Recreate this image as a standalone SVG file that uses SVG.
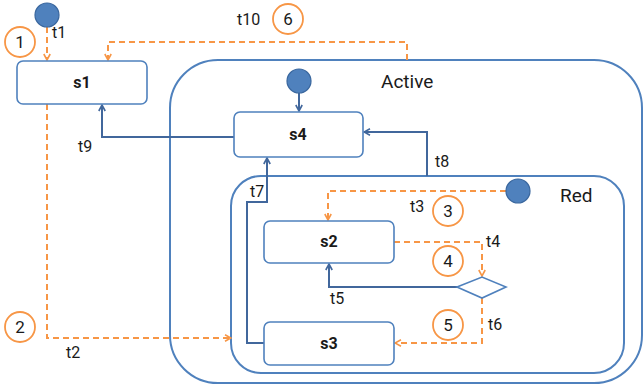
<svg xmlns="http://www.w3.org/2000/svg" width="643" height="385" viewBox="0 0 643 385">
  <defs>
    <style>
      .state { fill: #ffffff; stroke: #4f81bd; stroke-width: 1.6; }
      .region { fill: none; stroke: #4f81bd; stroke-width: 2; }
      .init { fill: #4f81bd; stroke: #3a679e; stroke-width: 1.2; }
      .solid { fill: none; stroke: #41679c; stroke-width: 2; marker-end: url(#arrowBlue); }
      .dash { fill: none; stroke: #f79646; stroke-width: 2; stroke-dasharray: 6 4; marker-end: url(#arrowOrange); }
      .step { fill: #ffffff; stroke: #f79646; stroke-width: 1.8; }
      .name { font-family: Roboto, "DejaVu Sans", sans-serif; font-size: 16px; font-weight: bold; fill: #1a1a1a; text-anchor: middle; }
      .title { font-family: Roboto, "DejaVu Sans", sans-serif; font-size: 19px; fill: #1a1a1a; }
      .lbl { font-family: Roboto, "DejaVu Sans", sans-serif; font-size: 16px; fill: #1a1a1a; }
      .num { font-family: Roboto, "DejaVu Sans", sans-serif; font-size: 17px; fill: #1a1a1a; text-anchor: middle; }
    </style>
    <marker id="arrowBlue" viewBox="0 0 8 8" refX="7" refY="4" markerWidth="8" markerHeight="8" markerUnits="userSpaceOnUse" orient="auto">
      <path d="M1,0.8 L7,4 L1,7.2" fill="none" stroke="#41679c" stroke-width="1.6"/>
    </marker>
    <marker id="arrowOrange" viewBox="0 0 8 8" refX="7" refY="4" markerWidth="8" markerHeight="8" markerUnits="userSpaceOnUse" orient="auto">
      <path d="M1,0.8 L7,4 L1,7.2" fill="none" stroke="#f79646" stroke-width="1.6"/>
    </marker>
  </defs>

  <!-- composite states -->
  <g id="Active">
    <rect class="region" x="170" y="60" width="472" height="323" rx="48"/>
    <text class="title" x="381" y="88">Active</text>
  </g>
  <g id="Red">
    <rect class="region" x="231" y="176" width="393" height="197" rx="30"/>
    <text class="title" x="560" y="202">Red</text>
  </g>

  <!-- transitions -->
  <g id="connectors">
    <path class="dash" d="M47,27 V60"/>
    <path class="dash" d="M47,104 V338 H231"/>
    <path class="dash" d="M506,191 H328 V220"/>
    <path class="dash" d="M394,242 H482 V276"/>
    <path class="dash" d="M482,298 V343 H395"/>
    <path class="dash" d="M407,60 V42 H108 V60"/>
    <path class="solid" d="M299,93 V111"/>
    <path class="solid" d="M234,137 H102 V105"/>
    <path class="solid" d="M264,343 H247 V202 H267 V158"/>
    <path class="solid" d="M427,176 V132 H364"/>
    <path class="solid" d="M457,287 H329 V264"/>
  </g>

  <!-- initial pseudostates -->
  <g id="init-top"><circle class="init" cx="47" cy="15" r="12"/></g>
  <g id="init-active"><circle class="init" cx="299" cy="81" r="12"/></g>
  <g id="init-red"><circle class="init" cx="518" cy="191" r="12"/></g>

  <!-- simple states -->
  <g id="s1">
    <rect class="state" x="17" y="61" width="130" height="43" rx="6"/>
    <text class="name" x="82" y="88">s1</text>
  </g>
  <g id="s4">
    <rect class="state" x="234" y="112" width="129" height="45" rx="6"/>
    <text class="name" x="298" y="140">s4</text>
  </g>
  <g id="s2">
    <rect class="state" x="264" y="221" width="130" height="42" rx="6"/>
    <text class="name" x="329" y="247">s2</text>
  </g>
  <g id="s3">
    <rect class="state" x="264" y="322" width="130" height="43" rx="6"/>
    <text class="name" x="329" y="349">s3</text>
  </g>
  <g id="choice">
    <path d="M457,287 L482,277 L506,287 L482,298 Z" fill="#ffffff" stroke="#4f81bd" stroke-width="1.6"/>
  </g>

  <!-- transition labels -->
  <g id="labels">
    <text class="lbl" x="52" y="38">t1</text>
    <text class="lbl" x="66" y="358">t2</text>
    <text class="lbl" x="410" y="212">t3</text>
    <text class="lbl" x="486" y="247">t4</text>
    <text class="lbl" x="330" y="304">t5</text>
    <text class="lbl" x="488" y="330">t6</text>
    <text class="lbl" x="250" y="197">t7</text>
    <text class="lbl" x="435" y="167">t8</text>
    <text class="lbl" x="78" y="152">t9</text>
    <text class="lbl" x="237" y="25">t10</text>
  </g>

  <!-- step markers -->
  <g id="steps">
    <circle class="step" cx="20" cy="42" r="15"/><text class="num" x="20" y="48">1</text>
    <circle class="step" cx="20" cy="327" r="15"/><text class="num" x="20" y="333">2</text>
    <circle class="step" cx="448" cy="211" r="15"/><text class="num" x="448" y="217">3</text>
    <circle class="step" cx="448" cy="261" r="15"/><text class="num" x="448" y="267">4</text>
    <circle class="step" cx="448" cy="325" r="15"/><text class="num" x="448" y="331">5</text>
    <circle class="step" cx="288" cy="19" r="15"/><text class="num" x="288" y="25">6</text>
  </g>
</svg>
